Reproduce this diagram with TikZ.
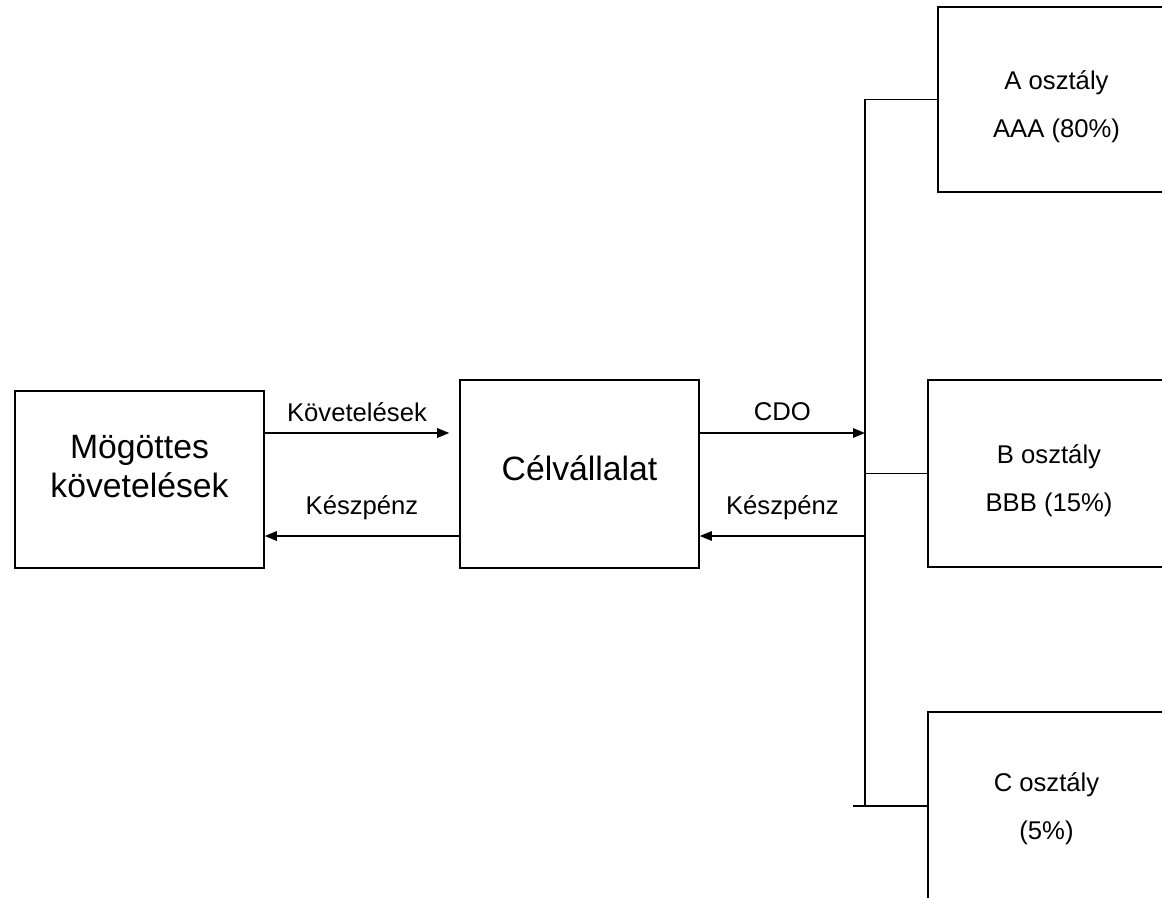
\documentclass[tikz,border=0pt]{standalone}
\usepackage{fontspec}
\setmainfont{Liberation Sans}
\usetikzlibrary{arrows.meta,positioning}

\begin{document}
\begin{tikzpicture}[>={Triangle[length=2.4mm,width=1.9mm]},line width=0.9pt,every node/.style={align=center},
  box/.style={draw,line width=0.9pt,inner sep=0pt},
  bigtext/.style={font=\fontsize{19.2}{22}\selectfont},
  classtext/.style={font=\fontsize{14.6}{27.5}\selectfont},
  flowlabel/.style={font=\fontsize{14.6}{17}\selectfont,inner sep=0pt}]
  \useasboundingbox (0,0) rectangle (23.24,17.94);
  \clip (0,0) rectangle (23.24,17.94);
  \node[box,minimum width=4.98cm,minimum height=3.54cm,label={[bigtext,yshift=0.26cm]center:Mögöttes\\követelések}] (assets) at (2.79,8.35) {};
  \node[box,minimum width=4.78cm,minimum height=3.76cm,label={[bigtext,yshift=0.11cm]center:Célvállalat}] (spv) at (11.59,8.46) {};
  \node[box,minimum width=4.74cm,minimum height=3.70cm,label={[classtext,yshift=-0.15cm]center:A osztály\\AAA (80\%)}] (classA) at (21.13,15.95) {};
  \node[box,minimum width=4.84cm,minimum height=3.74cm,label={[classtext,yshift=-0.14cm]center:B osztály\\BBB (15\%)}] (classB) at (20.98,8.47) {};
  \node[box,minimum width=4.74cm,minimum height=3.76cm,label={[classtext,yshift=-0.05cm]center:C osztály\\(5\%)}] (classC) at (20.93,1.82) {};
  \coordinate (topY) at (0,9.28);
  \coordinate (botY) at (0,7.22);
  \coordinate (busA) at (17.3,15.95);
  \coordinate (busC) at (17.3,1.82);
  \coordinate (stubC) at (17.06,1.82);
  \draw (busA) -- (busC);
  \draw (busA) -- (classA.west);
  \draw (busA |- classB.west) -- (classB.west);
  \draw (stubC) -- (classC.west);
  \draw[->] (assets.east |- topY) -- ([xshift=-2mm]spv.west |- topY) node[flowlabel,midway,yshift=0.42cm]{Követelések};
  \draw[->] (spv.west |- botY) -- (assets.east |- botY) node[flowlabel,midway,yshift=0.56cm]{Készpénz};
  \draw[->] (spv.east |- topY) -- (busA |- topY) node[flowlabel,midway,yshift=0.42cm]{CDO};
  \draw[->] (busA |- botY) -- (spv.east |- botY) node[flowlabel,midway,yshift=0.56cm]{Készpénz};
\end{tikzpicture}
\end{document}
